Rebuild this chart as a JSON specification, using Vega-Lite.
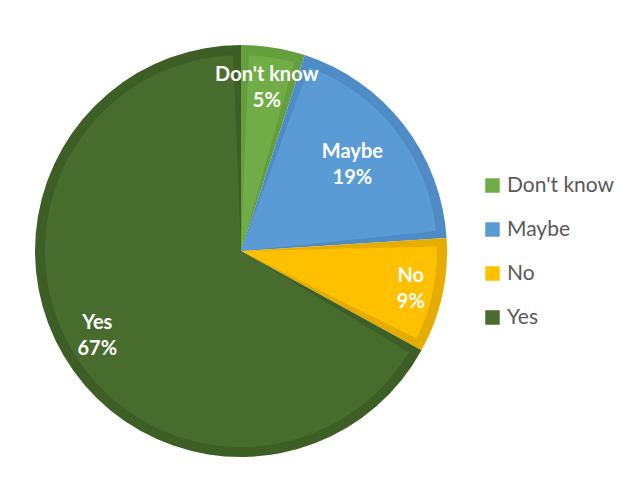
{
  "$schema": "https://vega.github.io/schema/vega-lite/v6.json",
  "width": 466,
  "height": 484,
  "autosize": {"type": "none"},
  "padding": {"left": 8, "top": 9, "right": 157, "bottom": 0},
  "background": "white",
  "config": {"view": {"stroke": null}, "font": "Lato"},
  "data": {
    "values": [
      {"answer": "Don't know", "pct": 5, "label": "Don't know\n5%"},
      {"answer": "Maybe", "pct": 19, "label": "Maybe\n19%"},
      {"answer": "No", "pct": 9, "label": "No\n9%"},
      {"answer": "Yes", "pct": 67, "label": "Yes\n67%"}
    ]
  },
  "encoding": {
    "theta": {"field": "pct", "type": "quantitative", "stack": true}
  },
  "resolve": {"scale": {"color": "independent"}, "legend": {"color": "independent"}},
  "layer": [
    {
      "mark": {"type": "arc", "radius": 206},
      "encoding": {
        "color": {
          "field": "answer", "type": "nominal", "legend": null,
          "scale": {"domain": ["Don't know", "Maybe", "No", "Yes"], "range": ["#63A03D", "#4F8BC4", "#E6AD00", "#3D5F26"]}
        }
      }
    },
    {
      "mark": {"type": "arc", "radius": 196, "padAngle": 0.08},
      "encoding": {
        "color": {
          "field": "answer", "type": "nominal",
          "scale": {"domain": ["Don't know", "Maybe", "No", "Yes"], "range": ["#70AD47", "#5B9BD5", "#FFC000", "#486C2E"]},
          "legend": {
            "title": null,
            "orient": "none",
            "legendX": 474,
            "legendY": 166,
            "symbolType": "square",
            "symbolSize": 210,
            "symbolStrokeWidth": 0,
            "labelFontSize": 21,
            "labelColor": "#595959",
            "labelFont": "Lato",
            "labelOffset": 4,
            "rowPadding": 22
          }
        }
      }
    },
    {
      "mark": {"type": "text", "radius": 165, "dy": -13, "color": "white", "fontWeight": "bold", "fontSize": 20, "lineBreak": "\n", "lineHeight": 26, "baseline": "middle", "align": "center"},
      "encoding": {
        "detail": {"field": "answer", "type": "nominal"},
        "text": {"condition": {"test": "datum.answer === \"Don't know\"", "field": "label"}, "value": ""}
      }
    },
    {
      "mark": {"type": "text", "radius": 141, "dy": -13, "color": "white", "fontWeight": "bold", "fontSize": 20, "lineBreak": "\n", "lineHeight": 26, "baseline": "middle", "align": "center"},
      "encoding": {
        "detail": {"field": "answer", "type": "nominal"},
        "text": {"condition": {"test": "datum.answer === 'Maybe'", "field": "label"}, "value": ""}
      }
    },
    {
      "mark": {"type": "text", "radius": 174, "dy": -13, "color": "white", "fontWeight": "bold", "fontSize": 20, "lineBreak": "\n", "lineHeight": 26, "baseline": "middle", "align": "center"},
      "encoding": {
        "detail": {"field": "answer", "type": "nominal"},
        "text": {"condition": {"test": "datum.answer === 'No'", "field": "label"}, "value": ""}
      }
    },
    {
      "mark": {"type": "text", "radius": 167, "dy": -13, "color": "white", "fontWeight": "bold", "fontSize": 20, "lineBreak": "\n", "lineHeight": 26, "baseline": "middle", "align": "center"},
      "encoding": {
        "detail": {"field": "answer", "type": "nominal"},
        "text": {"condition": {"test": "datum.answer === 'Yes'", "field": "label"}, "value": ""}
      }
    }
  ]
}
